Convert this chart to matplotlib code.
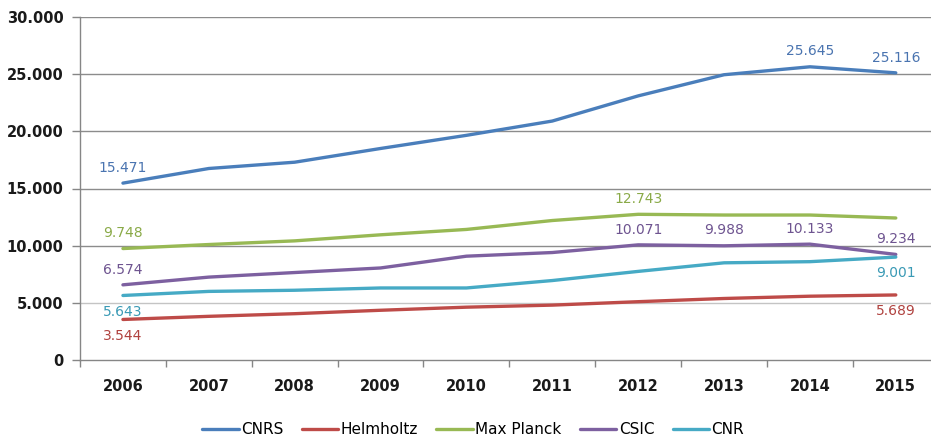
import matplotlib
matplotlib.use("Agg")
import matplotlib.pyplot as plt
from matplotlib.ticker import FuncFormatter, FixedLocator
import numpy as np

years = ["2006", "2007", "2008", "2009", "2010", "2011", "2012", "2013", "2014", "2015"]
cnrs = [15471, 16750, 17300, 18500, 19650, 20900, 23100, 24950, 25645, 25116]
helmholtz = [3544, 3820, 4050, 4350, 4620, 4800, 5100, 5380, 5580, 5689]
max_planck = [9748, 10100, 10420, 10950, 11420, 12200, 12743, 12680, 12680, 12420]
csic = [6574, 7250, 7650, 8050, 9080, 9400, 10071, 9988, 10133, 9234]
cnr = [5643, 6000, 6100, 6300, 6300, 6950, 7750, 8500, 8600, 9001]

series = [
    ("CNRS", cnrs, "#4a7ebb", {0: "above", 8: "above", 9: "above"}),
    ("Helmholtz", helmholtz, "#be4b48", {0: "below", 9: "below"}),
    ("Max Planck", max_planck, "#98b954", {0: "above", 6: "above"}),
    ("CSIC", csic, "#7d60a0", {0: "above", 6: "above", 7: "above", 8: "above", 9: "above"}),
    ("CNR", cnr, "#46aac5", {0: "below", 9: "below"}),
]
label_colors = {"CNRS": "#4a74b0", "Helmholtz": "#b0423f", "Max Planck": "#8aaa48",
                "CSIC": "#6e5490", "CNR": "#3a9ab5"}

W, H = 931, 437
fig = plt.figure(figsize=(W / 100, H / 100), dpi=100)
ax = fig.add_axes([80 / W, 1 - 360 / H, (W - 80) / W, 343 / H])

x = np.arange(len(years))
for name, vals, col, labs in series:
    ax.plot(x, vals, color=col, lw=2.4, label=name, solid_capstyle="round", zorder=3)
    for i, pos in labs.items():
        txt = f"{vals[i]:,}".replace(",", ".")
        dy = 6 if pos == "above" else -6.5
        va = "bottom" if pos == "above" else "top"
        ax.annotate(txt, (x[i], vals[i]), xytext=(0, dy), textcoords="offset points",
                    ha="center", va=va, fontsize=10, color=label_colors[name], zorder=4)

ax.set_xlim(-0.5, 9.41)
ax.set_ylim(0, 30000)
yticks = np.arange(0, 30001, 5000)
ax.set_yticks(yticks)
ax.yaxis.set_major_formatter(FuncFormatter(lambda v, p: f"{int(v):,}".replace(",", ".")))
ax.set_xticks(x)
ax.set_xticklabels(years)
ax.xaxis.set_minor_locator(FixedLocator(np.arange(-0.5, 10, 1)))
ax.tick_params(axis="x", which="major", length=0, pad=14)
ax.tick_params(axis="x", which="minor", length=5, color="#868686", width=1)
ax.tick_params(axis="y", length=6, color="#868686", width=1, pad=6)
for lab in ax.get_xticklabels() + ax.get_yticklabels():
    lab.set_fontweight("bold")
    lab.set_fontsize(10.5)
    lab.set_color("#1a1a1a")

for yv in yticks[1:]:
    ax.axhline(yv, color="#c4c4c4" if yv == 5000 else "#8c8c8c", lw=1, zorder=1)
for s in ["top", "right"]:
    ax.spines[s].set_visible(False)
for s in ["left", "bottom"]:
    ax.spines[s].set_color("#868686")
    ax.spines[s].set_linewidth(1)

fig.legend(loc="center", bbox_to_anchor=(473 / W, 1 - 430 / H), ncol=5, frameon=False,
           fontsize=11, handlelength=2.4, columnspacing=1.2, handletextpad=0.15,
           borderpad=0, borderaxespad=0)

fig.savefig("out.png", dpi=100)
